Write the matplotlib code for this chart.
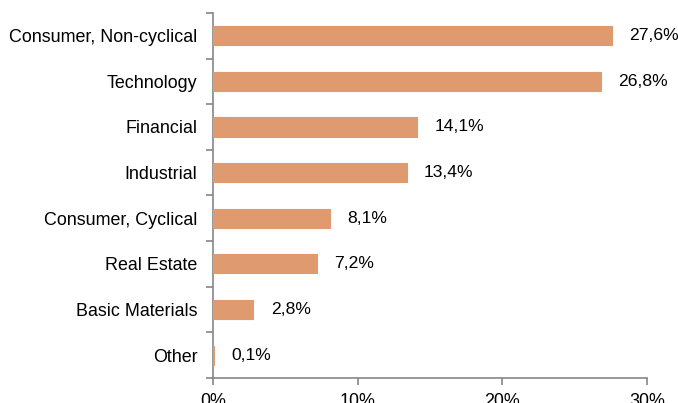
import matplotlib
matplotlib.use("Agg")
import matplotlib.pyplot as plt
import numpy as np

categories = ["Consumer, Non-cyclical", "Technology", "Financial", "Industrial",
              "Consumer, Cyclical", "Real Estate", "Basic Materials", "Other"]
values = [27.6, 26.8, 14.1, 13.4, 8.1, 7.2, 2.8, 0.1]
xticks = [0, 10, 20, 30]

plt.rcParams['font.family'] = ['Liberation Sans', 'DejaVu Sans']

fig = plt.figure(figsize=(6.78, 4.03), dpi=100)
ax = fig.add_axes([0.314, 0.062, 0.640, 0.906])

y = np.arange(len(categories))
bar_color = "#E09A6F"
ax.barh(y, values, height=0.42, color=bar_color, edgecolor=bar_color, linewidth=0.8, zorder=3)
for yi, v in zip(y, values):
    ax.text(v + 1.2, yi, f"{v:.1f}%".replace(".", ","), va="center", ha="left", fontsize=12.6)

ax.set_ylim(len(categories) - 0.5, -0.5)
ax.set_xlim(0, 30)
ax.set_yticks(y)
ax.set_yticklabels(categories, fontsize=12.9)
ax.set_yticks(np.arange(len(categories) + 1) - 0.5, minor=True)
ax.tick_params(axis="y", which="major", length=0, pad=11)
ax.tick_params(axis="y", which="minor", length=5, color="#868686", width=1.2)
ax.set_xticks(xticks)
ax.set_xticklabels([f"{t}%" for t in xticks], fontsize=12.9)
ax.tick_params(axis="x", length=5, color="#868686", width=1.2, pad=6)

for s in ["top", "right"]:
    ax.spines[s].set_visible(False)
for s in ["left", "bottom"]:
    ax.spines[s].set_color("#868686")
    ax.spines[s].set_linewidth(1.2)

fig.savefig("out.png", dpi=100)
